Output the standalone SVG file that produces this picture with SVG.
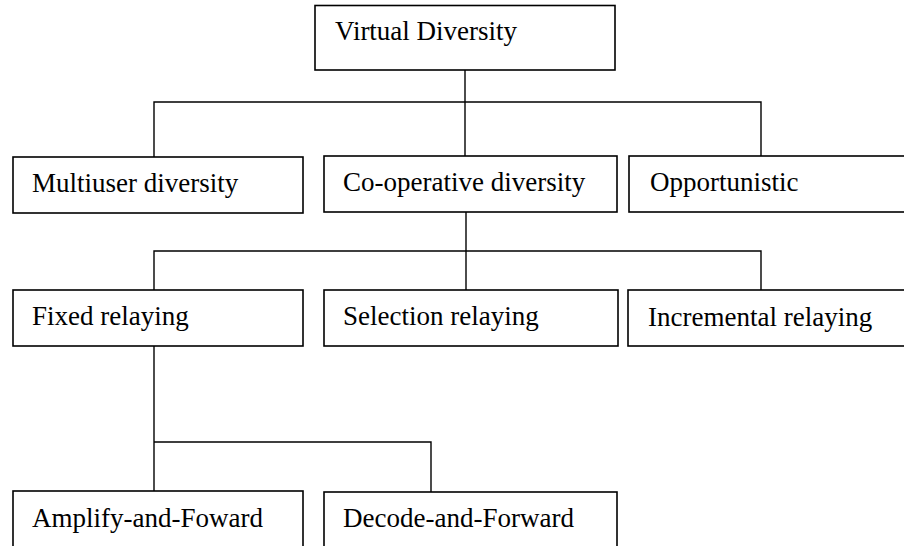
<svg xmlns="http://www.w3.org/2000/svg" width="904" height="546" viewBox="0 0 904 546">
<style>
.box{fill:#fff;stroke:#000;stroke-width:1.6}
.lbl{font-family:"Liberation Serif","Times New Roman",serif;font-size:27px;fill:#000}
.con{fill:none;stroke:#000;stroke-width:1.4}
</style>
<rect width="904" height="546" fill="#fff"/>
<g id="connectors">
<polyline class="con" points="154,157 154,102 761,102 761,156"/>
<line class="con" x1="465" y1="70" x2="465" y2="156"/>
<polyline class="con" points="154,290 154,251 761,251 761,290"/>
<line class="con" x1="466" y1="212" x2="466" y2="290"/>
<line class="con" x1="154" y1="346" x2="154" y2="491"/>
<polyline class="con" points="154,442 431,442 431,492"/>
</g>
<g id="virtual-diversity"><rect class="box" x="315" y="5.5" width="300" height="64.5"/><text class="lbl" x="335" y="40">Virtual Diversity</text></g>
<g id="multiuser"><rect class="box" x="13" y="157" width="290" height="56"/><text class="lbl" x="32" y="192">Multiuser diversity</text></g>
<g id="cooperative"><rect class="box" x="324" y="156" width="293" height="56"/><text class="lbl" x="343" y="191">Co-operative diversity</text></g>
<g id="opportunistic"><rect class="box" x="629" y="156" width="290" height="56"/><text class="lbl" x="650" y="191">Opportunistic</text></g>
<g id="fixed"><rect class="box" x="13" y="290" width="290" height="56"/><text class="lbl" x="32" y="325">Fixed relaying</text></g>
<g id="selection"><rect class="box" x="324" y="290" width="294" height="56"/><text class="lbl" x="343" y="325">Selection relaying</text></g>
<g id="incremental"><rect class="box" x="628" y="290" width="290" height="56"/><text class="lbl" x="648" y="326">Incremental relaying</text></g>
<g id="amplify"><rect class="box" x="13" y="491" width="290" height="70"/><text class="lbl" x="32" y="527">Amplify-and-Foward</text></g>
<g id="decode"><rect class="box" x="324" y="492" width="293" height="70"/><text class="lbl" x="343" y="527">Decode-and-Forward</text></g>
</svg>
